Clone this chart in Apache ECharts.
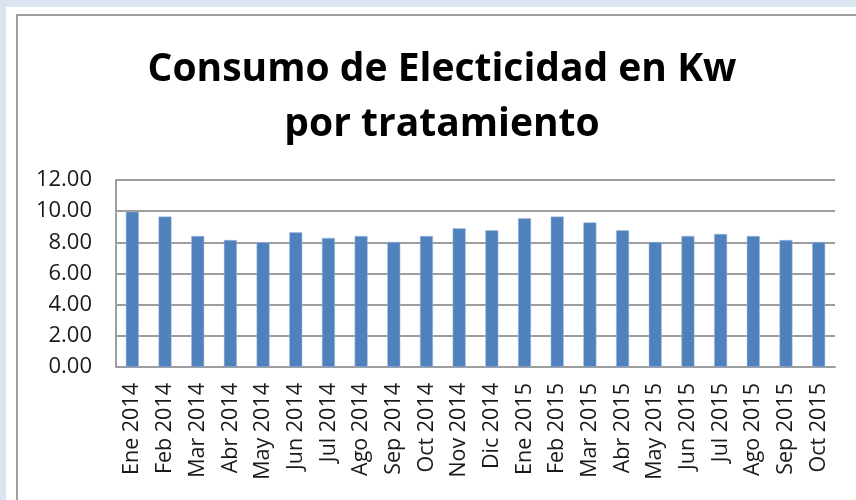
<!DOCTYPE html>
<html>
<head>
<meta charset="utf-8">
<script src="https://cdn.jsdelivr.net/npm/echarts@6/dist/echarts.min.js"></script>
<style>
  html, body { margin: 0; padding: 0; }
  body { width: 856px; height: 500px; background: #dbe5f1; position: relative; overflow: hidden; }
  .frame { position: absolute; left: 6px; top: 7px; width: 900px; height: 560px; background: #fff; }
  .box { position: absolute; left: 16px; top: 14px; width: 900px; height: 560px; border-left: 2px solid #9d9d9d; border-top: 2px solid #9d9d9d; }
  #chart { position: absolute; left: 0; top: 0; width: 856px; height: 500px; }
</style>
</head>
<body>
<div class="frame"></div>
<div class="box"></div>
<div id="chart"></div>
<script>
const months = [
  'Ene 2014', 'Feb 2014', 'Mar 2014', 'Abr 2014', 'May 2014', 'Jun 2014',
  'Jul 2014', 'Ago 2014', 'Sep 2014', 'Oct 2014', 'Nov 2014', 'Dic 2014',
  'Ene 2015', 'Feb 2015', 'Mar 2015', 'Abr 2015', 'May 2015', 'Jun 2015',
  'Jul 2015', 'Ago 2015', 'Sep 2015', 'Oct 2015',
]
const consumo = [
  9.97, 9.65, 8.41, 8.15, 8.0, 8.64,
  8.28, 8.41, 8.02, 8.41, 8.9, 8.77,
  9.54, 9.65, 9.28, 8.77, 8.02, 8.41,
  8.54, 8.41, 8.15, 8.02,
]
const titleLines = ['Consumo de Electicidad en Kw', 'por tratamiento']

const font = '"Open Sans", "DejaVu Sans", sans-serif'
const chart = echarts.init(document.getElementById('chart'))

chart.setOption({
  backgroundColor: 'transparent',
  animation: false,
  title: {
    text: titleLines.join('\n'),
    left: 437,
    top: 37,
    textAlign: 'center',
    textStyle: { fontFamily: font, fontSize: 39, fontWeight: 'bold', color: '#000', lineHeight: 55 },
  },
  grid: { left: 116, right: 21, top: 180, bottom: 133 },
  xAxis: {
    type: 'category',
    data: months,
    axisLine: { lineStyle: { color: '#9d9d9d', width: 2 } },
    axisTick: { show: false },
    axisLabel: { rotate: 90, interval: 0, margin: 16, color: '#1a1a1a', fontFamily: font, fontSize: 21.5 },
  },
  yAxis: {
    type: 'value',
    min: 0,
    max: 12,
    interval: 2,
    axisLine: { show: true, lineStyle: { color: '#9d9d9d', width: 2 } },
    axisTick: { show: false },
    axisLabel: { margin: 24, color: '#1a1a1a', fontFamily: font, fontSize: 22, formatter: (v) => v.toFixed(2) },
    splitLine: { lineStyle: { color: '#9d9d9d', width: 2 } },
  },
  series: [
    {
      type: 'bar',
      data: consumo,
      barWidth: 13,
      itemStyle: { color: '#4f81bd', borderColor: '#a9c2e0', borderWidth: 0.5 },
    },
  ],
})
</script>
</body>
</html>
